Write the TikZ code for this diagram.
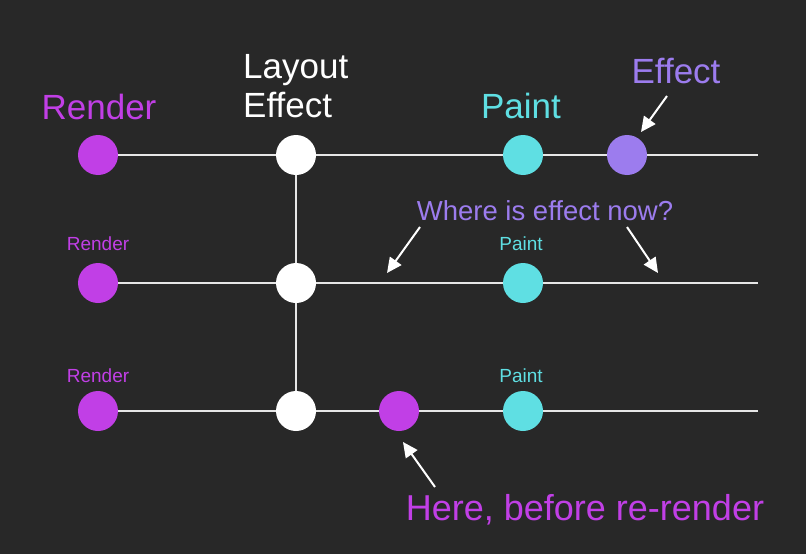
\documentclass[tikz,border=0pt]{standalone}
\usepackage{fontspec}
\setmainfont{Liberation Sans}
\usetikzlibrary{arrows.meta}
\definecolor{bgcol}{HTML}{282828}
\definecolor{rendercol}{HTML}{C13FE6}
\definecolor{paintcol}{HTML}{5FDFE3}
\definecolor{effectcol}{HTML}{9C7CEE}
\definecolor{trackcol}{HTML}{E6E6E6}

\begin{document}
\begin{tikzpicture}[x=1pt,y=-1pt]
\tikzstyle{dot}=[circle,inner sep=0pt,minimum size=40pt]
\tikzstyle{track}=[trackcol,line width=2pt]
\tikzstyle{pointer}=[white,line width=2pt,-{Triangle[length=15pt,width=14pt]}]
\tikzstyle{bigtext}=[font=\fontsize{35}{40}\selectfont,anchor=base,inner sep=0pt]
\tikzstyle{midtext}=[font=\fontsize{27.5}{32}\selectfont,anchor=base,inner sep=0pt]
\tikzstyle{smalltext}=[font=\fontsize{19}{23}\selectfont,anchor=base,inner sep=0pt]
\fill [bgcol] (0,0) rectangle (806,554);
\useasboundingbox (0,0) rectangle (806,554);
\node [dot,fill=rendercol] (r1) at (98,155) {};
\node [dot,fill=white] (l1) at (296,155) {};
\node [dot,fill=paintcol] (p1) at (523,155) {};
\node [dot,fill=effectcol] (e1) at (627,155) {};
\coordinate (end1) at (758,155);
\node [dot,fill=rendercol] (r2) at (98,283) {};
\node [dot,fill=white] (l2) at (296,283) {};
\node [dot,fill=paintcol] (p2) at (523,283) {};
\coordinate (end2) at (758,283);
\node [dot,fill=rendercol] (r3) at (98,411) {};
\node [dot,fill=white] (l3) at (296,411) {};
\node [dot,fill=rendercol] (h3) at (399,411) {};
\node [dot,fill=paintcol] (p3) at (523,411) {};
\coordinate (end3) at (758,411);
\draw [track] (r1) -- (l1) -- (p1) -- (e1) -- (end1);
\draw [track] (r2) -- (l2) -- (p2) -- (end2);
\draw [track] (r3) -- (l3) -- (h3) -- (p3) -- (end3);
\draw [track] (l1) -- (l2) -- (l3);
\node [bigtext,rendercol] (renderlabel) at (99,119) {Render};
\node [bigtext,white,anchor=base west] (layoutlabel) at (243,78) {Layout};
\node [bigtext,white,anchor=base west] (layouteffectlabel) at (243,117) {Effect};
\node [bigtext,paintcol] (paintlabel) at (521,118) {Paint};
\node [bigtext,effectcol] (effectlabel) at (676,83) {Effect};
\node [smalltext,rendercol] (render2label) at (98,250) {Render};
\node [smalltext,paintcol] (paint2label) at (521,250) {Paint};
\node [smalltext,rendercol] (render3label) at (98,382) {Render};
\node [smalltext,paintcol] (paint3label) at (521,382) {Paint};
\node [midtext,effectcol] (wherelabel) at (545,220) {Where is effect now?};
\node [bigtext,rendercol,font=\fontsize{36}{40}\selectfont] (herelabel) at (585,520) {Here, before re-render};
\coordinate (effecttail) at (667,96);
\coordinate (effecttip) at (641,132);
\coordinate (wherelefttail) at (420,227);
\coordinate (wherelefttip) at (387,273);
\coordinate (whererighttail) at (627,227);
\coordinate (whererighttip) at (658,273);
\coordinate (heretail) at (435,487);
\coordinate (heretip) at (403,442);
\draw [pointer] (effecttail) -- (effecttip);
\draw [pointer] (wherelefttail) -- (wherelefttip);
\draw [pointer] (whererighttail) -- (whererighttip);
\draw [pointer] (heretail) -- (heretip);
\end{tikzpicture}
\end{document}
